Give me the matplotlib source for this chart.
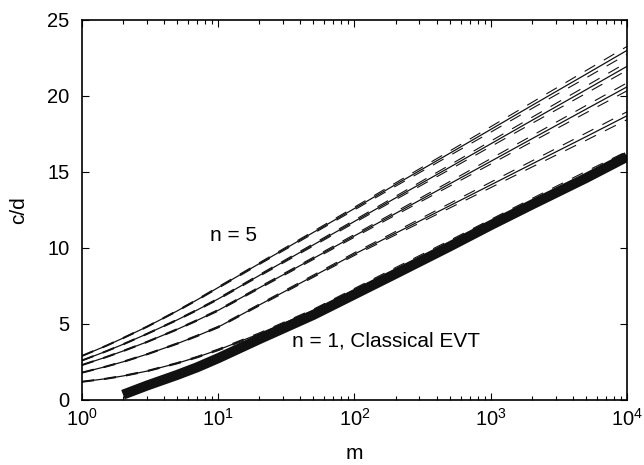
import numpy as np
import matplotlib.pyplot as plt
from matplotlib.ticker import LogLocator, NullFormatter

plt.rcParams['font.family'] = ['Liberation Sans', 'DejaVu Sans']
plt.rcParams['mathtext.fontset'] = 'custom'
plt.rcParams['mathtext.rm'] = 'Liberation Sans'

# sample points along m
m = [1, 1.5, 2, 3, 5, 7, 10, 20, 50, 100, 200, 500, 1000, 2000, 5000, 10000]

# c/d for n = 1..5 (thin solid curves)
cd_n1 = [1.2, 1.4, 1.58, 1.9, 2.42, 2.82, 3.3, 4.35, 5.9, 7.25, 8.6, 10.35, 11.7, 13.05, 14.8, 16.1]
cd_n2 = [1.8, 2.2, 2.51, 3.01, 3.71, 4.22, 4.8, 6.25, 8.15, 9.6, 10.97, 12.78, 14.15, 15.52, 17.32, 18.7]
cd_n3 = [2.3, 2.82, 3.22, 3.82, 4.65, 5.24, 5.9, 7.38, 9.32, 10.8, 12.27, 14.22, 15.7, 17.18, 19.13, 20.6]
cd_n4 = [2.6, 3.2, 3.66, 4.35, 5.27, 5.92, 6.65, 8.19, 10.21, 11.75, 13.29, 15.31, 16.85, 18.39, 20.41, 21.95]
cd_n5 = [2.9, 3.56, 4.07, 4.82, 5.86, 6.59, 7.4, 8.97, 11.03, 12.6, 14.17, 16.23, 17.8, 19.37, 21.43, 23.0]

# half width of the dashed bands around each curve
band = [0.03, 0.03, 0.035, 0.035, 0.04, 0.045, 0.05, 0.06, 0.075, 0.09, 0.11, 0.15, 0.18, 0.2, 0.24, 0.26]

# classical EVT (thick line), starts at m = 2
m_evt = [2, 3, 5, 7, 10, 20, 50, 100, 200, 500, 1000, 2000, 5000, 10000]
cd_evt = [0.35, 0.95, 1.65, 2.15, 2.75, 4.0, 5.6, 6.95, 8.3, 10.1, 11.5, 12.85, 14.6, 16.0]

fig = plt.figure(figsize=(6.44, 4.65), dpi=100)
ax = fig.add_axes([0.1273, 0.1398, 0.8463, 0.8172])

ax.plot(m_evt, cd_evt, color='#111111', lw=7.2, solid_capstyle='butt')

mm = np.array(m)
bw = np.array(band)
for cd in [cd_n1, cd_n2, cd_n3, cd_n4, cd_n5]:
    cd = np.array(cd)
    ax.plot(mm, cd, color='#111111', lw=0.9)
    ax.plot(mm, cd + bw, color='#111111', lw=0.8, dashes=(11, 9))
    ax.plot(mm, cd - bw, color='#111111', lw=0.8, dashes=(11, 9))

ax.text(13, 10.85, 'n = 5', fontsize=15, ha='center', va='center')
ax.text(35, 3.9, 'n = 1, Classical EVT', fontsize=15, ha='left', va='center')

ax.set_xscale('log')
ax.set_xlim(1, 1e4)
ax.set_ylim(0, 25)
ax.set_yticks([0, 5, 10, 15, 20, 25])
ax.xaxis.set_minor_locator(LogLocator(base=10, subs=np.arange(2, 10)))
ax.xaxis.set_minor_formatter(NullFormatter())

ax.tick_params(which='both', direction='in', top=True, right=True, labelsize=14.5)
ax.tick_params(which='major', length=5, width=0.8)
ax.tick_params(which='minor', length=3, width=0.8)
ax.tick_params(axis='x', which='major', pad=6)
ax.tick_params(axis='y', which='major', pad=9)
for s in ax.spines.values():
    s.set_linewidth(1.2)

ax.set_xlabel('m', fontsize=15, labelpad=10)
ax.set_ylabel('c/d', fontsize=15, labelpad=14)

fig.savefig('out.png', dpi=100)
